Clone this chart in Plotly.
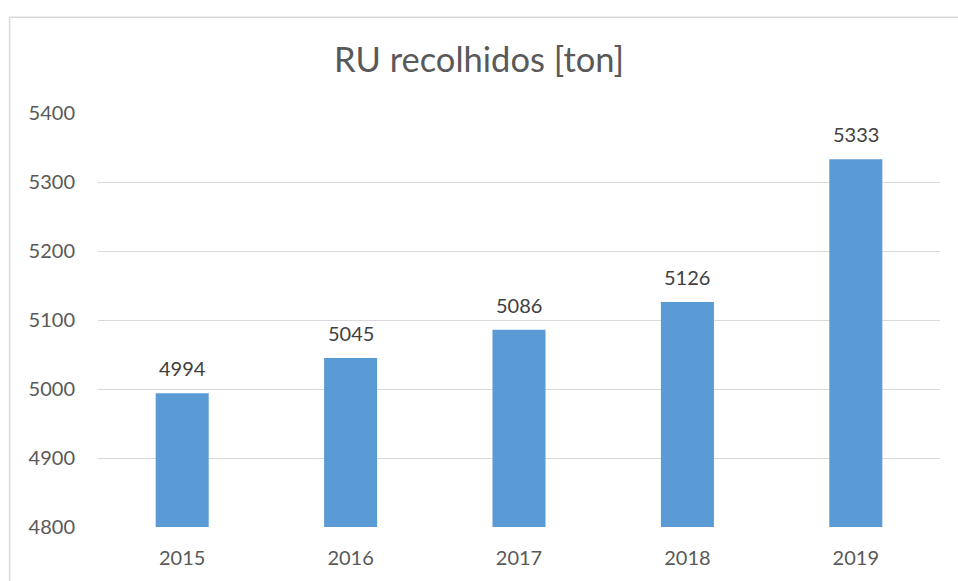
import plotly.graph_objects as go

years = ["2015", "2016", "2017", "2018", "2019"]
values = [4994, 5045, 5086, 5126, 5333]
y_ticks = [4800, 4900, 5000, 5100, 5200, 5300, 5400]
title_text = "RU recolhidos [ton]"

FONT = "Lato, 'Open Sans', sans-serif"

fig = go.Figure(go.Bar(
    x=years,
    y=values,
    width=0.315,
    marker=dict(color="#5b9bd5", line=dict(width=0)),
    hoverinfo="x+y",
))

for i, v in enumerate(values):
    fig.add_annotation(x=i, y=v, xref="x", yref="y", text=str(v), showarrow=False,
                       yanchor="bottom", yshift=11,
                       font=dict(family=FONT, size=20, color="#404040"))

border = dict(color="#d9d9d9", width=1.5)
fig.update_layout(
    width=958, height=581,
    margin=dict(l=98, r=18, t=113, b=50),
    paper_bgcolor="white", plot_bgcolor="white",
    showlegend=False,
    title=dict(text=title_text, x=0.5, xanchor="center", y=1 - 60 / 581, yanchor="middle",
               font=dict(family=FONT, size=34.5, color="#595959")),
    font=dict(family=FONT, color="#595959"),
    xaxis=dict(type="category", categoryarray=years, range=[-0.5, len(years) - 0.5],
               showgrid=False, showline=False, ticks="", ticklabelstandoff=17,
               tickfont=dict(family=FONT, size=20, color="#595959")),
    yaxis=dict(range=[4800, 5400], tickvals=y_ticks, showgrid=True, gridcolor="#d9d9d9",
               gridwidth=1, zeroline=False, showline=False, ticks="", ticklabelstandoff=22,
               tickfont=dict(family=FONT, size=20, color="#595959")),
    shapes=[
        dict(type="line", xref="paper", yref="paper", x0=-0.105, x1=1.1, y0=1.231, y1=1.231,
             line=border, layer="below"),
        dict(type="line", xref="paper", yref="paper", x0=-0.105, x1=-0.105, y0=-0.3, y1=1.231,
             line=border, layer="below"),
    ],
)

fig.write_html("out.html", config={"displayModeBar": False},
               post_script="document.body.style.margin='0';document.body.style.overflow='hidden';")
